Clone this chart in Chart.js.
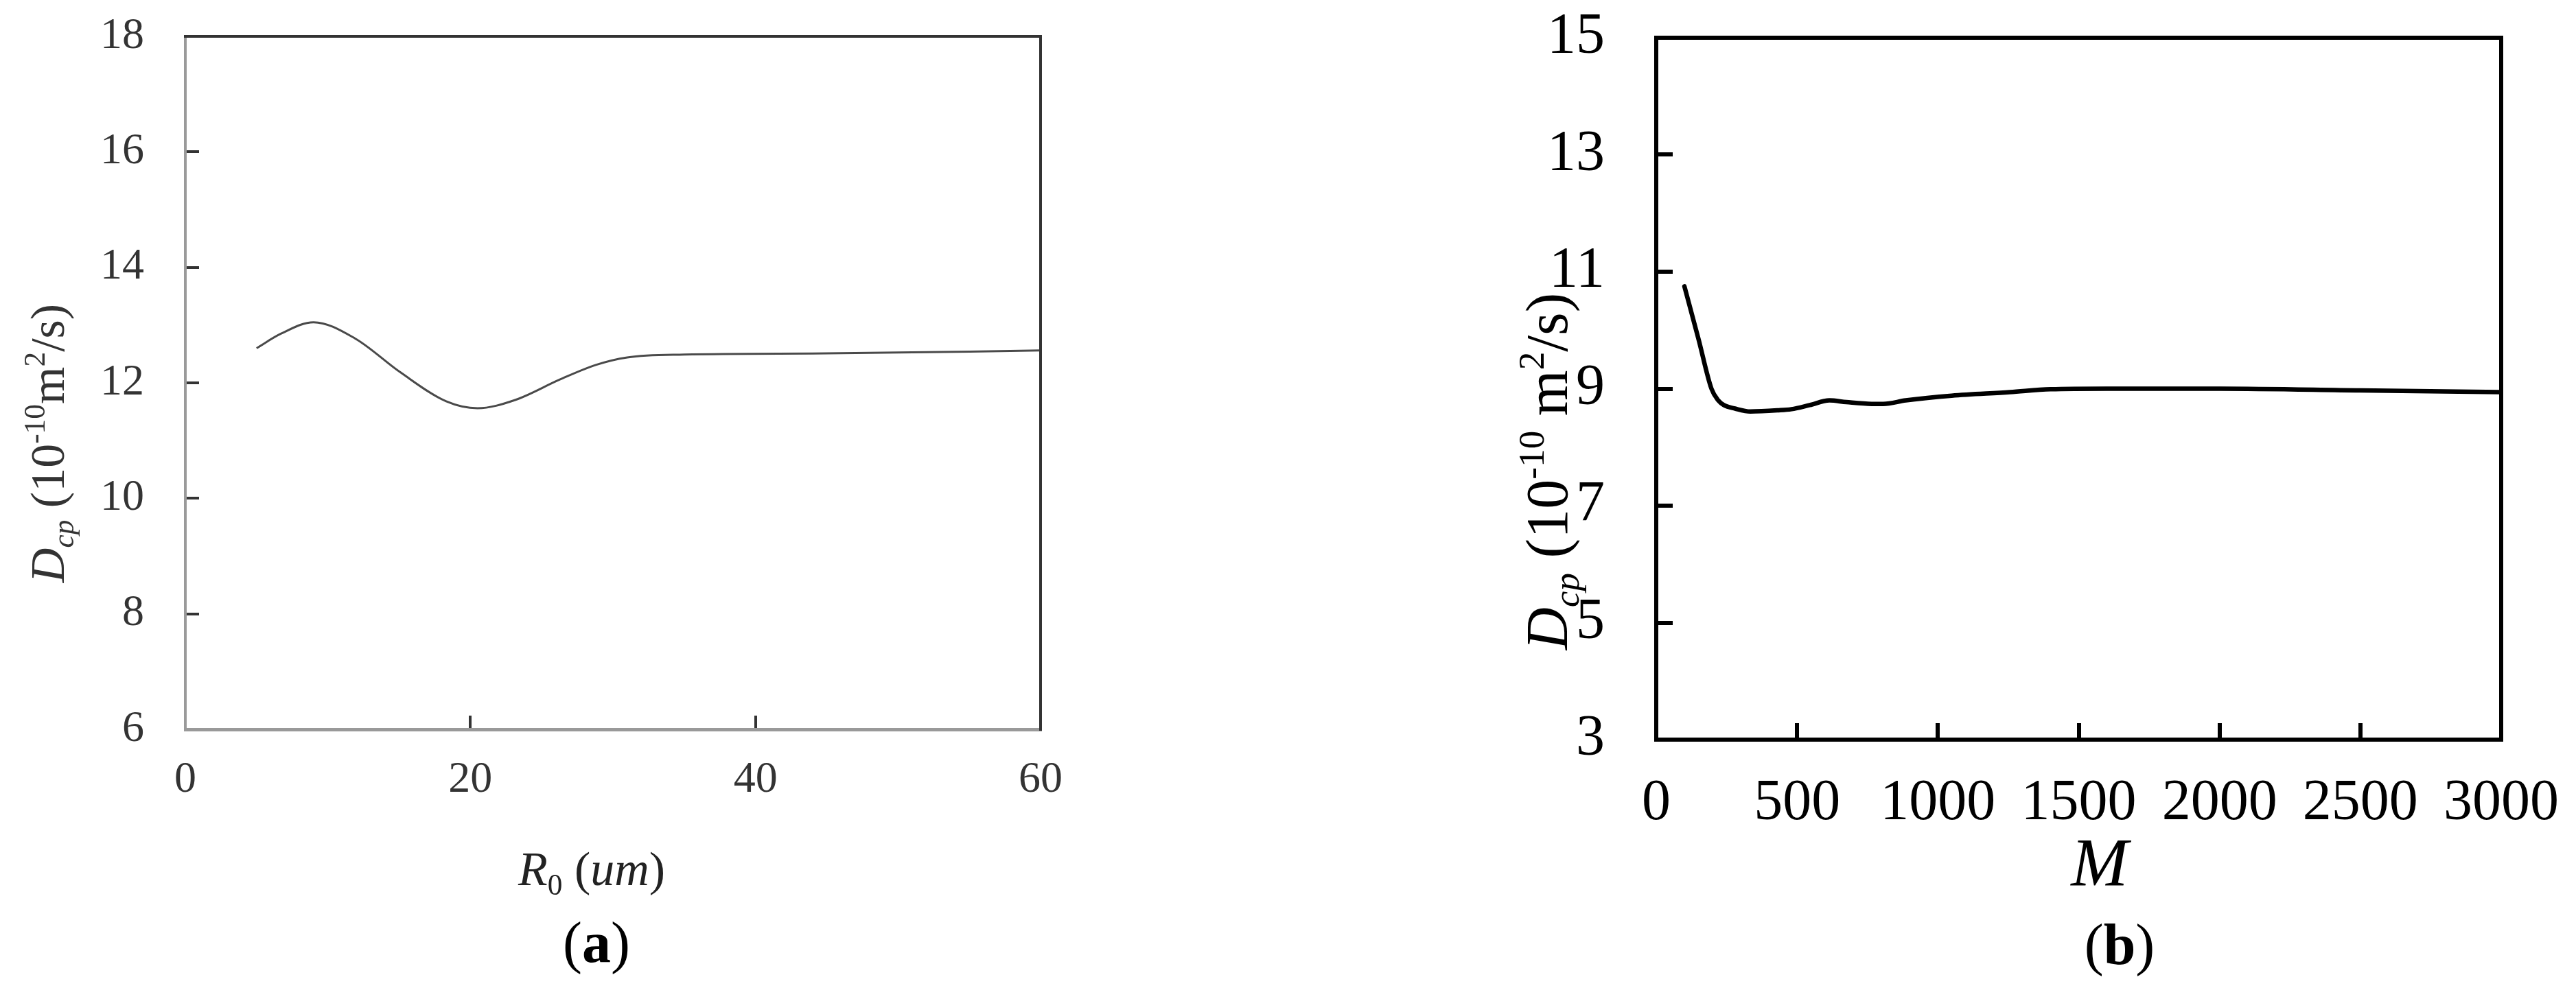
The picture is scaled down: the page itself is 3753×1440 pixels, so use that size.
<!DOCTYPE html>
<html>
<head>
<meta charset="utf-8">
<script src="https://cdn.jsdelivr.net/npm/chart.js@4.4.1/dist/chart.umd.min.js"></script>
<style>
  html, body { margin: 0; padding: 0; background: #fff; }
  body { width: 3753px; height: 1440px; position: relative; overflow: hidden; }
  .panel { position: absolute; top: 0; }
  #wrapA { left: 0; }
  #wrapB { left: 1900px; }
</style>
</head>
<body>
<div class="panel" id="wrapA"><canvas id="chartA" width="1700" height="1440"></canvas></div>
<div class="panel" id="wrapB"><canvas id="chartB" width="1853" height="1440"></canvas></div>
<script>
// panel (a): D_cp against R0
var r0Values = [5, 6.7, 9, 11.9, 15.1, 18.3, 20.5, 23.1, 26.3, 28.8, 31, 35, 45, 60];
var dcpA = [12.60, 12.85, 13.05, 12.77, 12.18, 11.68, 11.56, 11.70, 12.06, 12.31, 12.44, 12.49, 12.51, 12.56];
var xTicksA = [0, 20, 40, 60];
var yTicksA = [6, 8, 10, 12, 14, 16, 18];

// panel (b): D_cp against M
var mValues = [100, 150, 196, 220, 240, 280, 334, 431, 480, 545, 615, 675, 765, 806, 886, 1049, 1256, 1400, 1600, 2000, 2500, 3000];
var dcpB = [10.75, 9.85, 9.0, 8.80, 8.72, 8.66, 8.61, 8.63, 8.65, 8.72, 8.80, 8.77, 8.74, 8.74, 8.80, 8.88, 8.94, 8.99, 9.0, 9.0, 8.97, 8.94];
var xTicksB = [0, 500, 1000, 1500, 2000, 2500, 3000];
var yTicksB = [3, 5, 7, 9, 11, 13, 15];

var SERIF = '"Liberation Serif", "Times New Roman", serif';

function pairs(xs, ys) {
  return xs.map(function (x, i) { return { x: x, y: ys[i] }; });
}
function fixedTicks(list) {
  return function (scale) {
    scale.ticks = list.map(function (v) { return { value: v }; });
  };
}
function plainLabel(v) { return String(v); }
// fixed box size, and no extra room asked for the edge labels
function fitTo(w, h) {
  return function (s) {
    if (w != null) s.width = w;
    if (h != null) s.height = h;
    s.paddingTop = s.paddingBottom = s.paddingLeft = s.paddingRight = 0;
  };
}

// top and right edges of the box
var framePlugin = {
  id: "frame",
  afterDraw: function (chart, args, o) {
    var a = chart.chartArea, c = chart.ctx;
    c.save();
    c.strokeStyle = o.color;
    c.lineWidth = o.width;
    c.lineCap = "square";
    c.beginPath();
    c.moveTo(a.left, a.top);
    c.lineTo(a.right, a.top);
    c.lineTo(a.right, a.bottom);
    c.stroke();
    c.restore();
  }
};

// titles with sub/superscripts
function runFont(r, size) {
  var s = r.sub || r.sup ? size * 0.62 : size;
  return (r.italic ? "italic " : "") + (r.bold ? "bold " : "") + s + "px " + SERIF;
}
var richTitlePlugin = {
  id: "richTitle",
  afterDraw: function (chart, args, o) {
    var c = chart.ctx;
    (o.items || []).forEach(function (it) {
      c.save();
      c.fillStyle = it.color;
      c.textBaseline = "alphabetic";
      c.textAlign = "left";
      var total = 0;
      it.runs.forEach(function (r) {
        c.font = runFont(r, it.size);
        total += c.measureText(r.t).width;
      });
      c.translate(it.x, it.y);
      if (it.rotate) c.rotate(-Math.PI / 2);
      var x = -total / 2;
      it.runs.forEach(function (r) {
        c.font = runFont(r, it.size);
        var dy = r.sub ? it.size * 0.2 : r.sup ? -it.size * 0.4 : 0;
        c.fillText(r.t, x, dy);
        x += c.measureText(r.t).width;
      });
      c.restore();
    });
  }
};

var yTitleA = [
  { t: "D", italic: true }, { t: "cp", italic: true, sub: true },
  { t: " (10" }, { t: "-10", sup: true }, { t: "m" }, { t: "2", sup: true }, { t: "/s)" }
];
var yTitleB = [
  { t: "D", italic: true }, { t: "cp", italic: true, sub: true },
  { t: " (10" }, { t: "-10", sup: true }, { t: " m" }, { t: "2", sup: true }, { t: "/s)" }
];

new Chart(document.getElementById("chartA").getContext("2d"), {
  type: "scatter",
  data: {
    datasets: [{
      data: pairs(r0Values, dcpA),
      showLine: true,
      borderColor: "#4a4a4a",
      borderWidth: 3,
      pointRadius: 0,
      cubicInterpolationMode: "monotone",
      fill: false
    }]
  },
  options: {
    responsive: false,
    animation: false,
    layout: { padding: { left: 0, top: 53, right: 184, bottom: 0 } },
    plugins: {
      legend: { display: false },
      tooltip: { enabled: false },
      frame: { color: "#333", width: 4 },
      richTitle: {
        items: [
          { runs: yTitleA, x: 93, y: 646, rotate: true, size: 70, color: "#333" },
          { runs: [{ t: "R", italic: true }, { t: "0", sub: true }, { t: " (" }, { t: "um", italic: true }, { t: ")" }],
            x: 862, y: 1290, size: 70, color: "#222" },
          { runs: [{ t: "(" }, { t: "a", bold: true }, { t: ")" }], x: 869, y: 1402, size: 84, color: "#000" }
        ]
      }
    },
    scales: {
      x: {
        type: "linear",
        min: 0, max: 60,
        afterBuildTicks: fixedTicks(xTicksA),
        afterFit: fitTo(null, 1440 - 1063),
        grid: { drawOnChartArea: false, tickLength: -20, color: "#333", lineWidth: 4 },
        border: { color: "#999", width: 5 },
        ticks: { autoSkip: false, maxRotation: 0, padding: 56, color: "#333", callback: plainLabel,
                 font: { family: SERIF, size: 64 } }
      },
      y: {
        type: "linear",
        min: 6, max: 18,
        afterBuildTicks: fixedTicks(yTicksA),
        afterFit: fitTo(270, null),
        grid: { drawOnChartArea: false, tickLength: -20, color: "#333", lineWidth: 4 },
        border: { color: "#9a9a9a", width: 4 },
        ticks: { padding: 80, color: "#333", callback: plainLabel, font: { family: SERIF, size: 64 } }
      }
    }
  },
  plugins: [framePlugin, richTitlePlugin]
});

new Chart(document.getElementById("chartB").getContext("2d"), {
  type: "scatter",
  data: {
    datasets: [{
      data: pairs(mValues, dcpB),
      showLine: true,
      borderColor: "#000",
      borderWidth: 6.5,
      borderCapStyle: "round",
      pointRadius: 0,
      cubicInterpolationMode: "monotone",
      fill: false
    }]
  },
  options: {
    responsive: false,
    animation: false,
    layout: { padding: { left: 0, top: 55, right: 1853 - 1744, bottom: 0 } },
    plugins: {
      legend: { display: false },
      tooltip: { enabled: false },
      frame: { color: "#000", width: 6 },
      richTitle: {
        items: [
          { runs: yTitleB, x: 383, y: 687, rotate: true, size: 86, color: "#000" },
          { runs: [{ t: "M", italic: true }], x: 1159, y: 1290, size: 100, color: "#000" },
          { runs: [{ t: "(" }, { t: "b", bold: true }, { t: ")" }], x: 1188, y: 1405, size: 84, color: "#000" }
        ]
      }
    },
    scales: {
      x: {
        type: "linear",
        min: 0, max: 3000,
        afterBuildTicks: fixedTicks(xTicksB),
        afterFit: fitTo(null, 1440 - 1078),
        grid: { drawOnChartArea: false, tickLength: -24, color: "#000", lineWidth: 6 },
        border: { color: "#000", width: 6 },
        ticks: { autoSkip: false, maxRotation: 0, padding: 68, color: "#000", callback: plainLabel,
                 font: { family: SERIF, size: 84 } }
      },
      y: {
        type: "linear",
        min: 3, max: 15,
        afterBuildTicks: fixedTicks(yTicksB),
        afterFit: fitTo(2413 - 1900, null),
        grid: { drawOnChartArea: false, tickLength: -24, color: "#000", lineWidth: 6 },
        border: { color: "#000", width: 6 },
        ticks: { padding: 99, color: "#000", callback: plainLabel, font: { family: SERIF, size: 84 } }
      }
    }
  },
  plugins: [framePlugin, richTitlePlugin]
});
</script>
</body>
</html>
